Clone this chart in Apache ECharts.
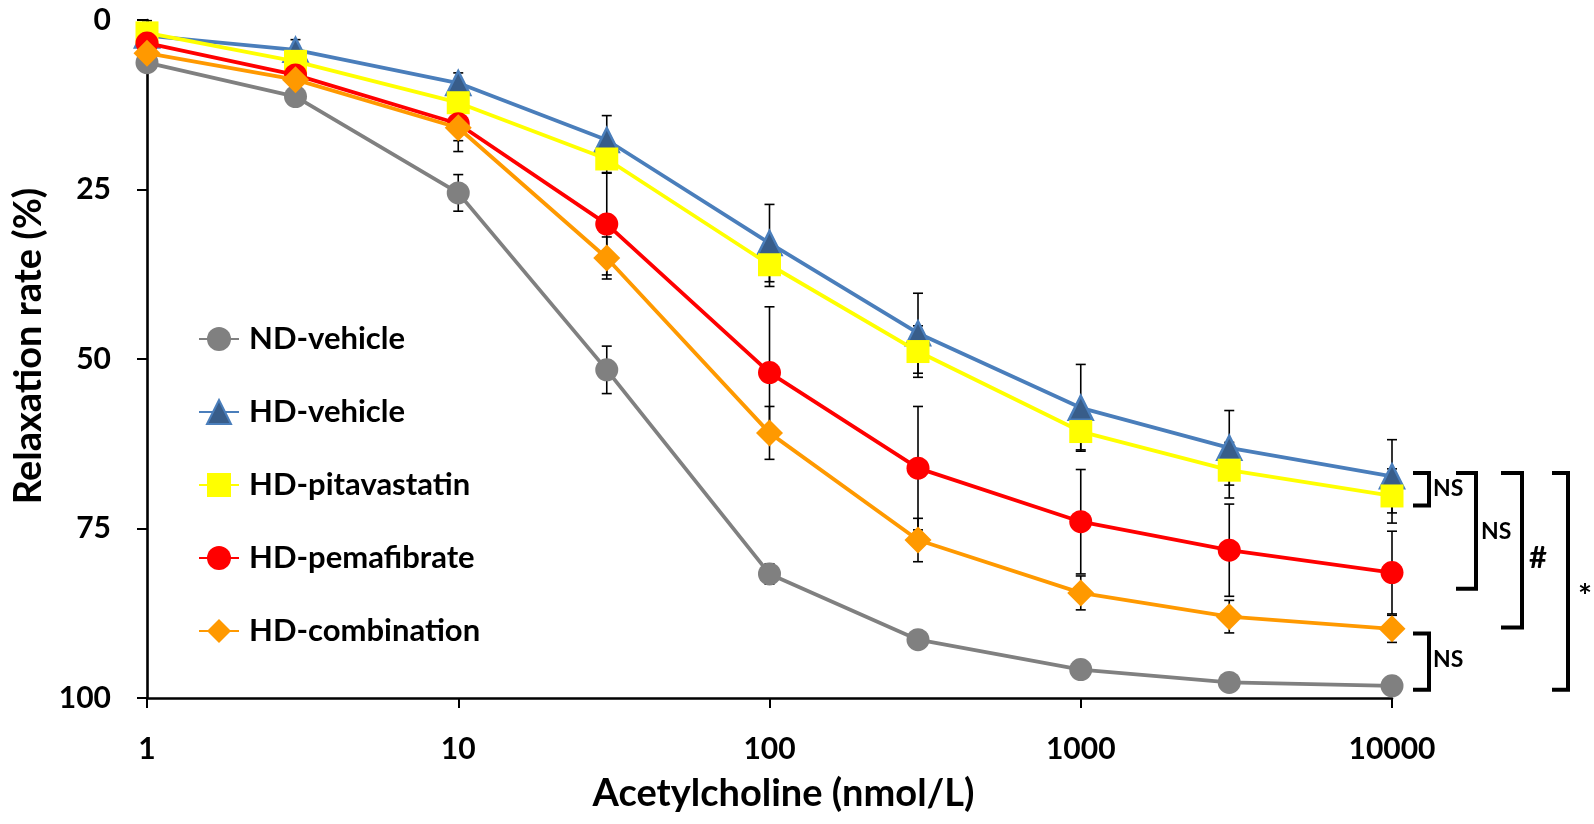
<!DOCTYPE html>
<html>
<head>
<meta charset="utf-8">
<script src="https://cdn.jsdelivr.net/npm/echarts@6/dist/echarts.min.js"></script>
<style>
html,body{margin:0;padding:0;background:#fff;}
#chart{width:1594px;height:824px;}
</style>
</head>
<body>
<div id="chart"></div>
<script>
// ---- data ----
const concentrations = [1, 3, 10, 30, 100, 300, 1000, 3000, 10000];
const xTickLabels = ['1', '10', '100', '1000', '10000'];
const yTickLabels = ['0', '25', '50', '75', '100'];
const seriesNames = ['ND-vehicle', 'HD-vehicle', 'HD-pitavastatin', 'HD-pemafibrate', 'HD-combination'];

const ndVehicle       = [6.3, 11.3, 25.5, 51.6, 81.7, 91.4, 95.8, 97.7, 98.2];
const ndVehicleSem    = [0.5, 0.6, 2.7, 3.5, 1.5, 1.0, 0.8, 0.6, 0.5];
const hdVehicle       = [2.3, 4.4, 9.3, 17.7, 32.9, 46.2, 57.2, 63.1, 67.3];
const hdVehicleSem    = [2.2, 1.5, 1.5, 3.6, 5.7, 5.9, 6.4, 5.5, 5.4];
const hdPitavastatin  = [1.9, 6.1, 12.2, 20.5, 36.1, 48.9, 60.7, 66.4, 70.2];
const hdPitavastatinSem = [0.8, 1.0, 1.5, 2.0, 3.2, 3.8, 2.7, 4.1, 4.0];
const hdPemafibrate   = [3.4, 8.1, 15.3, 30.1, 52.0, 66.1, 74.0, 78.2, 81.5];
const hdPemafibrateSem = [0.8, 1.2, 2.5, 7.5, 9.7, 9.1, 7.7, 6.8, 6.1];
const hdCombination   = [4.9, 8.8, 15.9, 35.1, 60.9, 76.7, 84.5, 88.0, 89.8];
const hdCombinationSem = [0.6, 1.0, 3.5, 3.1, 3.9, 3.2, 2.5, 2.4, 2.0];

// significance brackets (y range in data units)
const brackets = [
  {top: 66.8, bottom: 71.6, label: 'NS', labelY: 69.1},
  {top: 66.8, bottom: 83.9, label: 'NS', labelY: 75.5},
  {top: 66.8, bottom: 89.6, label: '#',  labelY: 79.3},
  {top: 66.8, bottom: 98.8, label: '*',  labelY: 85.2},
  {top: 90.5, bottom: 98.8, label: 'NS', labelY: 94.4}
];

// ---- styling ----
const FONT = 'Lato';
const styles = [
  {line: '#808080', fill: '#808080', border: '#808080', symbol: 'circle', size: 23},
  {line: '#4A7EBB', fill: '#385D8A', border: '#4A7EBB', symbol: 'triangle', size: 24},
  {line: '#FFFF00', fill: '#FFFF00', border: '#FFFF00', symbol: 'rect', size: 23},
  {line: '#FF0000', fill: '#FF0000', border: '#FF0000', symbol: 'circle', size: 23},
  {line: '#FF9900', fill: '#FF9900', border: '#FF9900', symbol: 'diamond', size: 27}
];
const bracketLayout = [
  {x0: 21, x1: 37, tx: 41, font: 'bold 23px ' + FONT},
  {x0: 64, x1: 84, tx: 89, font: 'bold 23px ' + FONT},
  {x0: 109, x1: 130, tx: 137, font: 'bold 31px ' + FONT},
  {x0: 160, x1: 176, tx: 186, font: 'bold 33px ' + FONT},
  {x0: 21, x1: 37, tx: 41, font: 'bold 23px ' + FONT}
];

const means = [ndVehicle, hdVehicle, hdPitavastatin, hdPemafibrate, hdCombination];
const sems = [ndVehicleSem, hdVehicleSem, hdPitavastatinSem, hdPemafibrateSem, hdCombinationSem];

const chart = echarts.init(document.getElementById('chart'), null, {renderer: 'canvas'});

const series = [];
means.forEach((arr, i) => {
  series.push({
    name: 'err' + i,
    type: 'custom',
    z: 1,
    data: concentrations.map((x, k) => [x, arr[k] - sems[i][k], arr[k] + sems[i][k]]),
    encode: {x: 0, y: [1, 2]},
    renderItem: function (params, api) {
      const lo = api.coord([api.value(0), api.value(1)]);
      const hi = api.coord([api.value(0), api.value(2)]);
      const w = 5;
      const st = {stroke: '#000', lineWidth: 1.6};
      return {
        type: 'group',
        children: [
          {type: 'line', shape: {x1: lo[0], y1: lo[1], x2: hi[0], y2: hi[1]}, style: st},
          {type: 'line', shape: {x1: lo[0] - w, y1: lo[1], x2: lo[0] + w, y2: lo[1]}, style: st},
          {type: 'line', shape: {x1: hi[0] - w, y1: hi[1], x2: hi[0] + w, y2: hi[1]}, style: st}
        ]
      };
    },
    silent: true
  });
});
means.forEach((arr, i) => {
  const s = styles[i];
  series.push({
    name: seriesNames[i],
    type: 'line',
    z: 2 + i,
    data: concentrations.map((x, k) => [x, arr[k]]),
    symbol: s.symbol,
    symbolSize: s.size,
    showAllSymbol: true,
    lineStyle: {color: s.line, width: 3.8},
    itemStyle: {color: s.fill, borderColor: s.border, borderWidth: s.symbol === 'triangle' ? 2.5 : 0, opacity: 1},
    emphasis: {disabled: true},
    animation: false
  });
});

chart.setOption({
  animation: false,
  backgroundColor: '#fff',
  grid: {left: 147, right: 202, top: 20, bottom: 126, containLabel: false},
  legend: {
    data: seriesNames,
    orient: 'vertical',
    left: 193,
    top: 318,
    itemWidth: 40,
    itemHeight: 30,
    itemGap: 41,
    textStyle: {fontFamily: FONT, fontWeight: 'bold', fontSize: 31, color: '#000', lineHeight: 32, padding: [0, 0, 0, 5]},
    selectedMode: false
  },
  xAxis: {
    type: 'log',
    logBase: 10,
    min: 1,
    max: 10000,
    name: 'Acetylcholine (nmol/L)',
    nameLocation: 'middle',
    nameGap: 77,
    nameTextStyle: {fontFamily: FONT, fontWeight: 'bold', fontSize: 38, color: '#000', padding: [0, 0, 0, 28]},
    axisLine: {onZero: false, lineStyle: {color: '#000', width: 2.6}},
    axisTick: {show: true, length: 10, lineStyle: {color: '#000', width: 2}},
    minorTick: {show: false},
    splitLine: {show: false},
    axisLabel: {
      margin: 36,
      fontFamily: FONT, fontWeight: 'bold', fontSize: 30, color: '#000',
      formatter: v => xTickLabels[Math.round(Math.log10(v))]
    }
  },
  yAxis: {
    type: 'value',
    inverse: true,
    min: 0,
    max: 100,
    interval: 25,
    name: 'Relaxation rate (%)',
    nameLocation: 'middle',
    nameGap: 98,
    nameRotate: 90,
    nameTextStyle: {fontFamily: FONT, fontWeight: 'bold', fontSize: 38, color: '#000', padding: [0, 0, 0, 26]},
    axisLine: {show: true, onZero: false, lineStyle: {color: '#000', width: 2.6}},
    axisTick: {show: true, length: 10, lineStyle: {color: '#000', width: 2}},
    splitLine: {show: false},
    axisLabel: {
      margin: 36,
      fontFamily: FONT, fontWeight: 'bold', fontSize: 30, color: '#000',
      formatter: v => yTickLabels[Math.round(v / 25)]
    }
  },
  series: series
});

// brackets and significance labels
const xRight = chart.convertToPixel({xAxisIndex: 0}, 10000);
const graphics = [];
brackets.forEach((b, i) => {
  const L = bracketLayout[i];
  const yT = chart.convertToPixel({yAxisIndex: 0}, b.top);
  const yB = chart.convertToPixel({yAxisIndex: 0}, b.bottom);
  const yL = chart.convertToPixel({yAxisIndex: 0}, b.labelY);
  graphics.push({
    type: 'polyline',
    shape: {points: [[xRight + L.x0, yT], [xRight + L.x1, yT], [xRight + L.x1, yB], [xRight + L.x0, yB]]},
    style: {stroke: '#000', lineWidth: 4, fill: null, lineJoin: 'miter'},
    silent: true
  });
  graphics.push({
    type: 'text',
    x: xRight + L.tx,
    y: yL,
    style: {text: b.label, font: L.font, fill: '#000', verticalAlign: 'middle', align: 'left'},
    silent: true
  });
});
chart.setOption({graphic: graphics});
</script>
</body>
</html>
